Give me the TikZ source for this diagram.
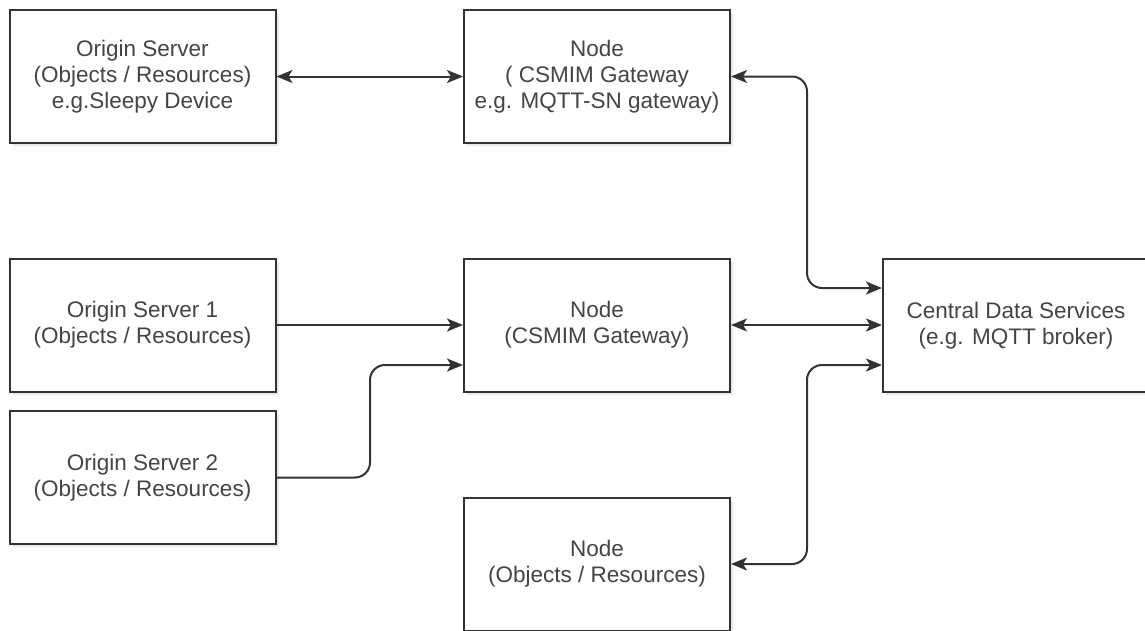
\documentclass[tikz,border=0pt]{standalone}
\usepackage{fontspec}
\setmainfont{Liberation Sans}
\usetikzlibrary{arrows.meta,shadows,calc}
\definecolor{edge}{HTML}{333333}
\definecolor{txt}{HTML}{444444}
\tikzset{
  box/.style={draw=edge, line width=2pt, fill=white, minimum width=266pt, minimum height=133pt,
    align=center, text=txt, font=\fontsize{22.5pt}{26pt}\selectfont,
    drop shadow={shadow xshift=3pt, shadow yshift=-3pt, opacity=0.18, fill=gray}},
  tipa/.style={},
  conn/.style={draw=edge, line width=2pt, rounded corners=15pt,
    arrows={-Stealth[length=16pt,width=13pt,inset=4pt]}},
  biconn/.style={conn, arrows={Stealth[length=16pt,width=13pt,inset=4pt]-Stealth[length=16pt,width=13pt,inset=4pt]}}
}
\begin{document}
\begin{tikzpicture}[x=1pt,y=1pt]
\clip (0,0) rectangle (1145,-630);
\fill[white] (0,0) rectangle (1145,-630);
\node[box] (b1) at (142.5,-76.5) {Origin Server\\(Objects / Resources)\\e.g.Sleepy Device};
\node[box] (b2) at (597,-76.5) {Node\\( CSMIM Gateway\\e.g. MQTT-SN gateway)};
\node[box] (os1) at (142.5,-325) {Origin Server 1\\(Objects / Resources)};
\node[box] (os2) at (142.5,-477.5) {Origin Server 2\\(Objects / Resources)};
\node[box] (n2) at (597,-325) {Node\\(CSMIM Gateway)};
\node[box] (b6) at (597,-564) {Node\\(Objects / Resources)};
\node[box] (cds) at (1016,-325.5) {Central Data Services\\(e.g. MQTT broker)};
\coordinate (bus) at (807,0);
\coordinate (bend) at (370,0);
\coordinate (cdsA) at ([yshift=37.5pt]cds.west);
\coordinate (cdsC) at ([yshift=-39.5pt]cds.west);
\coordinate (n2B) at ([yshift=-40pt]n2.west);
\draw[biconn] (b1.east) -- (b2.west);
\draw[biconn] (b2.east) -- (b2.east -| bus) -- (bus |- cdsA) -- (cdsA);
\draw[conn] (os1.east) -- (os1.east -| n2.west);
\draw[conn] (os2.east) -- (os2.east -| bend) -- (bend |- n2B) -- (n2B);
\draw[biconn] (n2.east) -- (n2.east -| cds.west);
\draw[biconn] (b6.east) -- (b6.east -| bus) -- (bus |- cdsC) -- (cdsC);
\end{tikzpicture}
\end{document}
